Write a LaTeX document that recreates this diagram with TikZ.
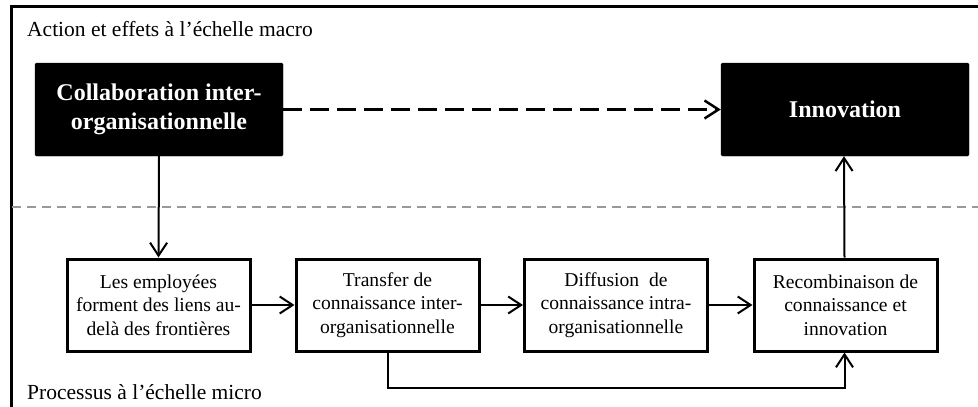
\documentclass[tikz,border=0pt]{standalone}
\usepackage{fontspec}
\setmainfont{Liberation Serif}
\usetikzlibrary{arrows.meta}
\begin{document}
\begin{tikzpicture}[x=1pt,y=-1pt,
  macrobox/.style={fill=black,draw=black,rounded corners=1.5pt,minimum width=248pt,minimum height=93pt,
    text=white,align=center,inner sep=0pt,font=\fontsize{24}{28.5}\selectfont\bfseries},
  microbox/.style={draw=black,line width=3pt,minimum width=183pt,minimum height=92pt,
    align=center,inner sep=0pt,font=\fontsize{19.6}{23.5}\selectfont},
  arr/.style={line width=2pt,-{Straight Barb[length=13pt,width=17pt,line width=2pt]}},
  dasharr/.style={line width=3pt,dash pattern=on 19pt off 8pt,-{Straight Barb[length=14pt,width=18pt,line width=2.5pt]}},
  label/.style={anchor=base west,inner sep=0pt,font=\fontsize{21.5}{25}\selectfont},
  frame/.style={line width=3pt},
  divider/.style={line width=2pt,draw=black!40,dash pattern=on 9pt off 6pt}]
\useasboundingbox (0,0) rectangle (978,407);
% frame
\coordinate (fbl) at (11,420);
\coordinate (ftl) at (11,6.5);
\coordinate (ftr) at (990,6.5);
\draw[frame] (fbl) -- (ftl) -- (ftr);
% divider
\coordinate (dl) at (12,207);
\coordinate (dr) at (978,207);
\draw[divider] (dl) -- (dr);
% labels
\node[label] (lmacro) at (27,36) {Action et effets à l’échelle macro};
\node[label] (lmicro) at (27,399) {Processus à l’échelle micro};
% macro boxes
\node[macrobox] (collab) at (159,109.5) {Collaboration inter-\\organisationnelle};
\node[macrobox] (innov) at (845,109.5) {Innovation};
% micro boxes
\node[microbox] (emp) at (158.5,305) {Les employées\\forment des liens au-\\delà des frontières};
\node[microbox] (trans) at (387.5,305) {Transfer de\\connaissance inter-\\organisationnelle};
\node[microbox] (diff) at (616,305) {Diffusion\ \ de\\connaissance intra-\\organisationnelle};
\node[microbox] (recomb) at (845.5,305) {Recombinaison de\\connaissance et\\innovation};
% connectors
\draw[dasharr] (collab.east) -- (innov.west);
\draw[arr] (collab.south) -- (emp.north);
\draw[arr] (emp.east) -- (trans.west);
\draw[arr] (trans.east) -- (diff.west);
\draw[arr] (diff.east) -- (recomb.west);
\draw[arr] ([xshift=-1pt]recomb.north) -- ([xshift=-1pt]innov.south);
\draw[arr] (trans.south) -- ++(0,35) -| ([xshift=-1pt]recomb.south);
\end{tikzpicture}
\end{document}
